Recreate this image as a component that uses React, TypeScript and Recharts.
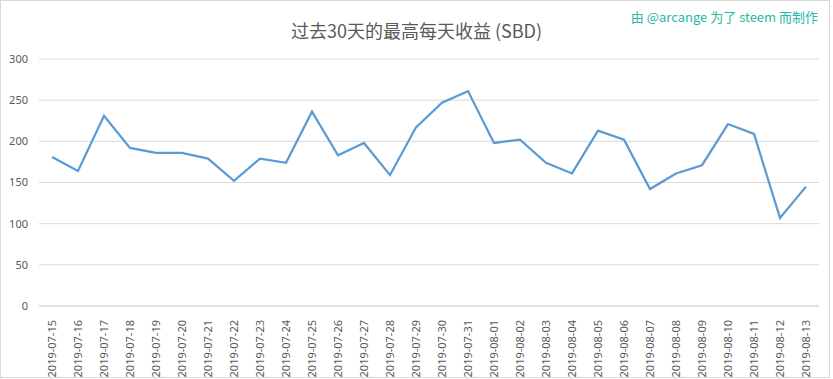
import { LineChart, Line, XAxis, YAxis, CartesianGrid } from 'recharts';

const dates = [
  '2019-07-15', '2019-07-16', '2019-07-17', '2019-07-18', '2019-07-19', '2019-07-20',
  '2019-07-21', '2019-07-22', '2019-07-23', '2019-07-24', '2019-07-25', '2019-07-26',
  '2019-07-27', '2019-07-28', '2019-07-29', '2019-07-30', '2019-07-31', '2019-08-01',
  '2019-08-02', '2019-08-03', '2019-08-04', '2019-08-05', '2019-08-06', '2019-08-07',
  '2019-08-08', '2019-08-09', '2019-08-10', '2019-08-11', '2019-08-12', '2019-08-13',
];

const maxDaily = [
  181, 164, 231, 192, 186, 186, 179, 152, 179, 174, 236, 183,
  198, 159, 217, 247, 261, 198, 202, 174, 161, 213, 202, 142,
  161, 171, 221, 209, 107, 145,
];

const yTicks = [0, 50, 100, 150, 200, 250, 300];

const data = dates.map((d, i) => ({ date: d, value: maxDaily[i] }));

const textColor = '#595959';
const font = '"Noto Sans", "Noto Sans CJK SC", sans-serif';

// rotated date labels hanging below the axis
const DateTick = (props: any) => {
  const { x, y, payload } = props;
  return (
    <text
      x={0}
      y={0}
      transform={`translate(${x + 4},${y + 6}) rotate(-90)`}
      textAnchor="end"
      fontSize={11}
      fill={textColor}
      fontFamily={font}
    >
      {payload.value}
    </text>
  );
};

export default function App() {
  return (
    <div style={{ position: 'absolute', left: 0, top: 0, width: 833, height: 379, background: '#fff' }}>
      <div style={{ position: 'absolute', left: 0, top: 0, width: 830, height: 378, border: '1px solid #d9d9d9', boxSizing: 'border-box' }} />
      <div style={{ position: 'absolute', left: 0, top: 19, width: 833, textAlign: 'center', fontSize: 18, color: textColor, fontFamily: '"Noto Sans CJK SC", sans-serif', lineHeight: '22px' }}>
        过去30天的最高每天收益 (SBD)
      </div>
      <div style={{ position: 'absolute', right: 15, top: 8, fontSize: 13, color: '#26b9a5', fontFamily: '"Noto Sans CJK SC", sans-serif', lineHeight: '18px', whiteSpace: 'nowrap' }}>
        由 @arcange 为了 steem 而制作
      </div>
      <div style={{ position: 'absolute', left: 0, top: 0 }}>
        <LineChart width={833} height={379} data={data} margin={{ top: 59, right: 14, bottom: 0, left: 0 }}>
          <CartesianGrid horizontal vertical={false} stroke="#d9d9d9" />
          <XAxis
            dataKey="date"
            interval={0}
            height={73}
            padding={{ left: 13, right: 13 }}
            tick={<DateTick />}
            tickLine={false}
            axisLine={{ stroke: '#d9d9d9' }}
          />
          <YAxis
            width={39}
            domain={[0, 300]}
            ticks={yTicks}
            tickLine={false}
            axisLine={false}
            tickMargin={5}
            tick={{ fontSize: 11, fill: textColor, fontFamily: font }}
          />
          <Line
            type="linear"
            dataKey="value"
            stroke="#5b9bd5"
            strokeWidth={2.25}
            dot={false}
            isAnimationActive={false}
          />
        </LineChart>
      </div>
    </div>
  );
}
